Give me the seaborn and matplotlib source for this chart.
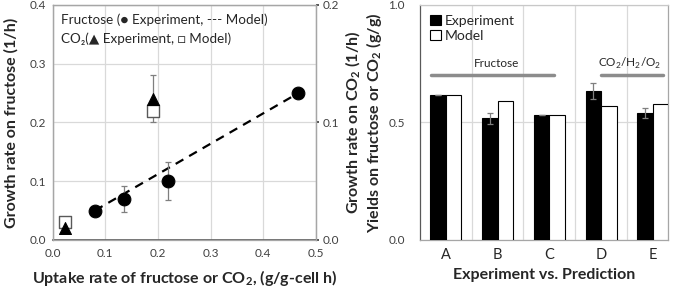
import numpy as np
import pandas as pd
import matplotlib
matplotlib.use('Agg')
import matplotlib.pyplot as plt
import seaborn as sns

# %% data
# left panel: growth rate vs uptake rate
fru_uptake = [0.08, 0.135, 0.22, 0.467]
fru_growth = [0.05, 0.07, 0.10, 0.25]
fru_err_lo = [0.0, 0.022, 0.032, 0.0]
fru_err_hi = [0.0, 0.022, 0.032, 0.0]
fru_model_x = [0.08, 0.467]
fru_model_y = [0.05, 0.25]

co2_uptake = [0.023, 0.19]
co2_growth_exp = [0.01, 0.12]      # secondary axis (0-0.2)
co2_err = [0.0, 0.02]
co2_growth_model = [0.015, 0.11]

# right panel: yields
cases = ['A', 'B', 'C', 'D', 'E']
yield_exp = [0.615, 0.517, 0.530, 0.633, 0.539]
yield_exp_err = [0.0, 0.023, 0.0, 0.035, 0.022]
yield_model = [0.617, 0.591, 0.532, 0.569, 0.580]

# %% style
sns.set_theme(style='white')
plt.rcParams['font.family'] = ['Lato', 'DejaVu Sans']
plt.rcParams['mathtext.fontset'] = 'custom'
plt.rcParams['mathtext.rm'] = 'Lato'
plt.rcParams['mathtext.bf'] = 'Lato:bold'
grid_c = '#d9d9d9'
spine_c = '#a6a6a6'
err_c = '#7f7f7f'
txt_c = '#262626'
lab_fs = 11.5
tick_fs = 8.5

fig = plt.figure(figsize=(6.85, 2.87), dpi=100)
ax1 = fig.add_axes([0.077, 0.164, 0.384, 0.819])
ax2 = fig.add_axes([0.613, 0.164, 0.362, 0.819])

# %% left panel
ax1.set_xlim(0, 0.5)
ax1.set_ylim(0, 0.4)
ax1.set_xticks(np.arange(0, 0.51, 0.1))
ax1.set_yticks(np.arange(0, 0.41, 0.1))
ax1.grid(True, color=grid_c, lw=0.9)
ax1.set_axisbelow(True)

sns.lineplot(x=fru_model_x, y=fru_model_y, ax=ax1, color='black', lw=1.6,
             linestyle=(0, (4, 3)), zorder=3)
ax1.errorbar(fru_uptake, fru_growth, yerr=[fru_err_lo, fru_err_hi], fmt='none',
             ecolor=err_c, elinewidth=0.9, capsize=2.5, capthick=0.9, zorder=3)
sns.scatterplot(x=fru_uptake, y=fru_growth, ax=ax1, color='black', s=85,
                marker='o', edgecolor='black', zorder=4)

ax1b = ax1.twinx()
ax1b.set_ylim(0, 0.2)
ax1b.set_yticks([0.0, 0.1, 0.2])
ax1b.errorbar(co2_uptake, co2_growth_exp, yerr=co2_err, fmt='none',
              ecolor=err_c, elinewidth=0.9, capsize=2.5, capthick=0.9, zorder=3)
sns.scatterplot(x=co2_uptake, y=co2_growth_model, ax=ax1b, marker='s', s=80,
                facecolor='white', edgecolor='#595959', linewidth=1.0, zorder=4)
sns.scatterplot(x=co2_uptake, y=co2_growth_exp, ax=ax1b, marker='^', s=75,
                color='black', edgecolor='black', zorder=5)
ax1b.set_xlim(0, 0.5)

for a in (ax1, ax1b):
    for s in a.spines.values():
        s.set_color(spine_c)
        s.set_linewidth(0.9)
ax1.spines['bottom'].set_color('#595959')
ax1.spines['bottom'].set_linewidth(1.2)

ax1.tick_params(axis='both', labelsize=tick_fs, colors='#404040', length=0, pad=5)
ax1.tick_params(axis='x', pad=6)
ax1b.tick_params(axis='y', labelsize=tick_fs, colors='#404040', length=2, pad=3)
ax1.set_xticklabels(['0.0', '0.1', '0.2', '0.3', '0.4', '0.5'])
ax1.set_yticklabels(['0.0', '0.1', '0.2', '0.3', '0.4'])
ax1b.set_yticklabels(['0.0', '0.1', '0.2'])

ax1.set_xlabel('Uptake rate of fructose or CO$_\\mathbf{2}$, (g/g-cell h)',
               fontsize=lab_fs, fontweight='bold', color=txt_c)
ax1.xaxis.set_label_coords(0.5, -0.118)
ax1.set_ylabel('Growth rate on fructose (1/h)', fontsize=lab_fs,
               fontweight='bold', color=txt_c)
ax1.yaxis.set_label_coords(-0.13, 0.5)
ax1b.set_ylabel('Growth rate on CO$_\\mathbf{2}$ (1/h)', fontsize=lab_fs,
                fontweight='bold', color=txt_c, rotation=90)
ax1b.yaxis.set_label_coords(1.105, 0.5)

ax1.text(0.015, 0.375, 'Fructose (\u25CF Experiment, --- Model)', fontsize=9.7,
         color=txt_c, va='center')
ax1.text(0.015, 0.342, 'CO\u2082(\u25B2 Experiment, \u25A1 Model)', fontsize=9.7,
         color=txt_c, va='center')

# %% right panel
df = pd.DataFrame({
    'case': cases * 2,
    'yield': yield_exp + yield_model,
    'series': ['Experiment'] * len(cases) + ['Model'] * len(cases),
})
sns.barplot(data=df, x='case', y='yield', hue='series', ax=ax2,
            palette={'Experiment': 'black', 'Model': 'white'},
            edgecolor='black', linewidth=0.8, width=0.6, errorbar=None,
            zorder=3)
exp_bars = ax2.patches[:len(cases)]
ax2.errorbar([p.get_x() + p.get_width() / 2 for p in exp_bars], yield_exp,
             yerr=yield_exp_err, fmt='none', ecolor=err_c, elinewidth=0.9,
             capsize=2.5, capthick=0.9, zorder=4)

ax2.set_xlim(-0.5, 4.29)
ax2.set_ylim(0, 1.0)
ax2.set_yticks([0.0, 0.5, 1.0])
ax2.set_yticklabels(['0.0', '0.5', '1.0'])
ax2.set_xticks(np.arange(0.5, 4, 1), minor=True)
ax2.grid(True, which='minor', axis='x', color=grid_c, lw=0.9)
ax2.grid(True, which='major', axis='y', color=grid_c, lw=0.9)
ax2.set_axisbelow(True)
for s in ax2.spines.values():
    s.set_color(spine_c)
    s.set_linewidth(0.9)
ax2.spines['left'].set_color('#595959')
ax2.spines['top'].set_color('#c8c8c8')
ax2.tick_params(axis='both', which='both', length=0, colors=txt_c)
ax2.tick_params(axis='y', labelsize=tick_fs, colors='#404040', pad=11)
ax2.tick_params(axis='x', labelsize=10.5, pad=6)

ax2.set_xlabel('Experiment vs. Prediction', fontsize=lab_fs, fontweight='bold',
               color=txt_c)
ax2.xaxis.set_label_coords(0.5, -0.118)
ax2.set_ylabel('Yields on fructose or CO$_\\mathbf{2}$ (g/g)', fontsize=lab_fs,
               fontweight='bold', color=txt_c)
ax2.yaxis.set_label_coords(-0.145, 0.5)

ax2.plot([-0.29, 2.09], [0.702, 0.702], color='#8c8c8c', lw=2.5, zorder=2)
ax2.plot([3.0, 4.2], [0.702, 0.702], color='#8c8c8c', lw=2.5, zorder=2)
ax2.text(0.99, 0.752, 'Fructose', fontsize=8.5, ha='center', va='center',
         color=txt_c)
ax2.text(3.56, 0.752, 'CO$_2$/H$_2$/O$_2$', fontsize=8.5, ha='center',
         va='center', color=txt_c)

leg = ax2.legend(loc='upper left', fontsize=10, frameon=False, handlelength=0.8,
                 handleheight=0.8, handletextpad=0.3, borderaxespad=0.3,
                 labelspacing=0.2)
for h in leg.legend_handles:
    h.set_edgecolor('black')

fig.savefig('out.png', dpi=100)
